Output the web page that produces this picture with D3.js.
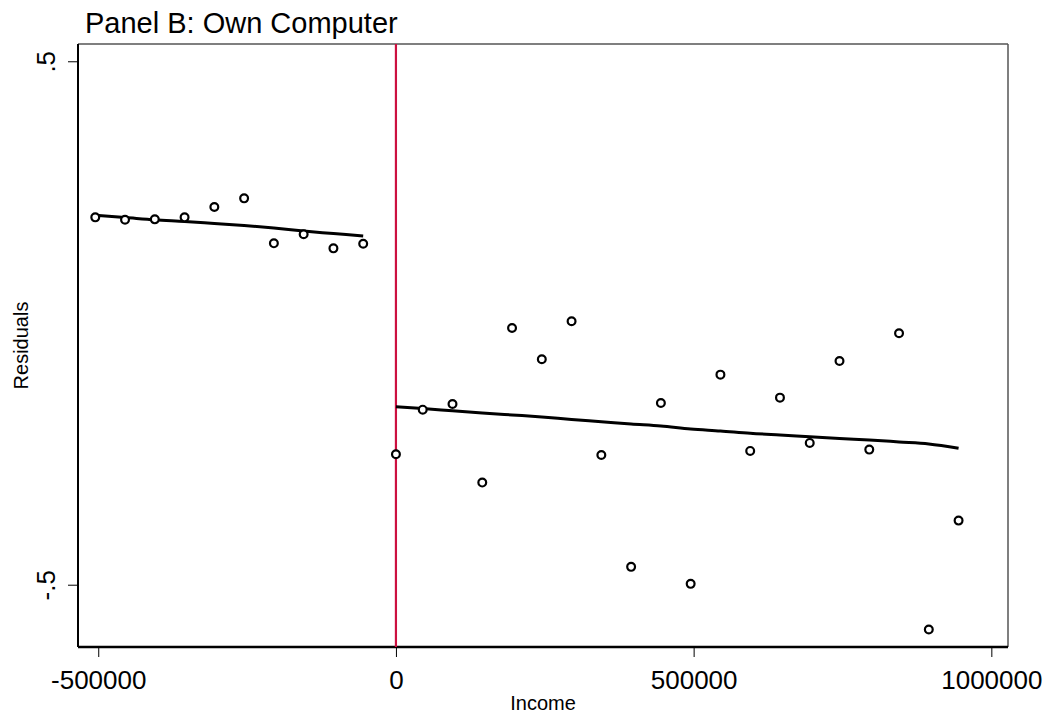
<!DOCTYPE html>
<html lang="en">
<head>
    <meta charset="UTF-8">
    <title>Panel B: Own Computer</title>
    <script src="https://cdn.jsdelivr.net/npm/d3@7"></script>
    <style>
        body { margin: 0; background: #fff; }
        text { font-family: "Liberation Sans", Arial, sans-serif; fill: #000; }
    </style>
</head>
<body>
<div id="d3"></div>
<script>
    var width = 1050;
    var height = 719;

    // bin centres (income) and mean residuals, left of cutoff
    var leftIncome = [-505000, -455000, -405000, -355000, -305000, -255000, -205000, -155000, -105000, -55000];
    var leftResid = [0.2018, 0.1973, 0.1980, 0.2018, 0.2215, 0.2381, 0.1522, 0.1694, 0.1426, 0.1514];
    var leftFit = [0.2057, 0.2015, 0.1971, 0.1938, 0.1900, 0.1862, 0.1814, 0.1757, 0.1709, 0.1661];

    // right of cutoff
    var rightIncome = [0, 45000, 95000, 145000, 195000, 245000, 295000, 345000, 395000, 445000,
        495000, 545000, 595000, 645000, 695000, 745000, 795000, 845000, 895000, 945000];
    var rightResid = [-0.2507, -0.1656, -0.1547, -0.3049, -0.0095, -0.0693, 0.0032, -0.2521, -0.4659, -0.1528,
        -0.4984, -0.0987, -0.2444, -0.1426, -0.2291, -0.0726, -0.2419, -0.0197, -0.5856, -0.3775];
    var rightFit = [-0.1598, -0.1633, -0.1677, -0.1719, -0.1757, -0.1795, -0.1843, -0.1885, -0.1929, -0.1967,
        -0.2024, -0.2062, -0.2106, -0.2139, -0.2171, -0.2205, -0.2234, -0.2272, -0.2310, -0.2393];

    var xTicks = [-500000, 0, 500000, 1000000];
    var yTicks = [-0.5, 0.5];
    var yTickLabels = ["-.5", ".5"];
    var cutoff = 0;

    var plot = {left: 78, right: 1008, top: 44, bottom: 647};

    var x = d3.scaleLinear().domain([-534000, 1028000]).range([plot.left, plot.right]);
    var y = d3.scaleLinear().domain([-0.619, 0.533]).range([plot.bottom, plot.top]);

    var svg = d3.select("#d3")
            .append("svg")
            .attr("width", width)
            .attr("height", height);

    // frame: top and right thin grey, left and bottom drawn with the axes
    svg.append("line")
            .attr("x1", plot.left).attr("x2", plot.right)
            .attr("y1", plot.top).attr("y2", plot.top)
            .attr("stroke", "#555").attr("stroke-width", 1.5);
    svg.append("line")
            .attr("x1", plot.right).attr("x2", plot.right)
            .attr("y1", plot.top).attr("y2", plot.bottom)
            .attr("stroke", "#555").attr("stroke-width", 1.5);

    var xAxis = svg.append("g")
            .attr("transform", "translate(0," + plot.bottom + ")")
            .call(d3.axisBottom(x).tickValues(xTicks).tickSize(10).tickPadding(14)
                    .tickFormat(function (d) { return String(d); }));
    xAxis.select(".domain").remove();
    xAxis.selectAll("line").attr("stroke", "#000").attr("stroke-width", 1);
    xAxis.selectAll("text").attr("font-size", 26).attr("font-family", "Liberation Sans, Arial, sans-serif");
    svg.append("line")
            .attr("x1", plot.left).attr("x2", plot.right)
            .attr("y1", plot.bottom).attr("y2", plot.bottom)
            .attr("stroke", "#000").attr("stroke-width", 2.5);

    var yAxis = svg.append("g")
            .attr("transform", "translate(" + plot.left + ",0)")
            .call(d3.axisLeft(y).tickValues(yTicks).tickSize(10)
                    .tickFormat(function (d, i) { return yTickLabels[i]; }));
    yAxis.select(".domain").remove();
    yAxis.selectAll("line").attr("stroke", "#000").attr("stroke-width", 1);
    yAxis.selectAll("text")
            .attr("font-size", 26)
            .attr("font-family", "Liberation Sans, Arial, sans-serif")
            .attr("text-anchor", "middle")
            .attr("x", null).attr("dy", null)
            .attr("transform", "translate(-23,0) rotate(-90)");
    svg.append("line")
            .attr("x1", plot.left).attr("x2", plot.left)
            .attr("y1", plot.top).attr("y2", plot.bottom)
            .attr("stroke", "#000").attr("stroke-width", 2);

    // cutoff line
    svg.append("line")
            .attr("x1", x(cutoff)).attr("x2", x(cutoff))
            .attr("y1", plot.top).attr("y2", plot.bottom)
            .attr("stroke", "#cc1040").attr("stroke-width", 2.2);

    var line = d3.line()
            .x(function (d) { return x(d[0]); })
            .y(function (d) { return y(d[1]); })
            .curve(d3.curveMonotoneX);

    [[leftIncome, leftFit], [rightIncome, rightFit]].forEach(function (s) {
        svg.append("path")
                .attr("d", line(d3.zip(s[0], s[1])))
                .attr("fill", "none")
                .attr("stroke", "#000")
                .attr("stroke-width", 3);
    });

    var pts = d3.zip(leftIncome, leftResid).concat(d3.zip(rightIncome, rightResid));
    svg.append("g").selectAll("circle")
            .data(pts)
            .enter()
            .append("circle")
            .attr("cx", function (d) { return x(d[0]); })
            .attr("cy", function (d) { return y(d[1]); })
            .attr("r", 3.9)
            .attr("fill", "#fff")
            .attr("stroke", "#000")
            .attr("stroke-width", 2.2);

    svg.append("text")
            .attr("x", 85)
            .attr("y", 33)
            .attr("font-size", 29)
            .text("Panel B: Own Computer");

    svg.append("text")
            .attr("x", (plot.left + plot.right) / 2)
            .attr("y", 710)
            .attr("text-anchor", "middle")
            .attr("font-size", 20)
            .text("Income");

    svg.append("text")
            .attr("transform", "translate(28," + (plot.top + plot.bottom) / 2 + ") rotate(-90)")
            .attr("text-anchor", "middle")
            .attr("font-size", 20)
            .text("Residuals");
</script>
</body>
</html>
